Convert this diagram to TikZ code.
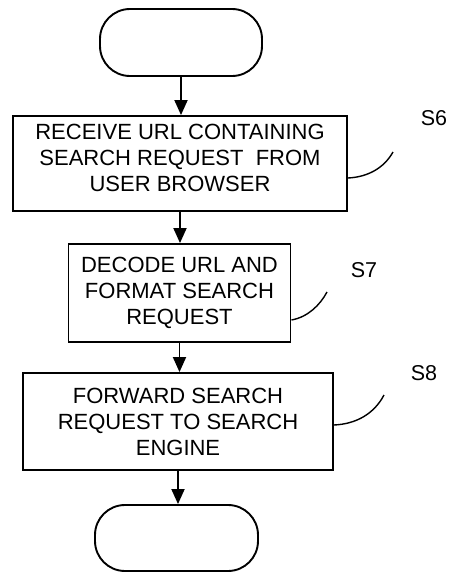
\documentclass[tikz,border=0pt]{standalone}
\usepackage{fontspec}
\setmainfont{Liberation Sans}
\usetikzlibrary{arrows.meta}
\begin{document}
\begin{tikzpicture}[x=1pt,y=-1pt,
  box/.style={draw,line width=1.9pt,align=center,font=\fontsize{22}{26}\selectfont,inner sep=0pt},
  term/.style={draw,line width=1.9pt,rounded corners=30pt,inner sep=0pt},
  flow/.style={line width=1.9pt,-{Triangle[length=15pt,width=13pt]}},
  lead/.style={line width=1.4pt},
  lbl/.style={font=\fontsize{21.5}{24}\selectfont,inner sep=0pt}]
\useasboundingbox (0,0) rectangle (453,574);
\node[term,minimum width=162pt,minimum height=67pt] (t1) at (181,42.5) {};
\node[box,minimum width=334pt,minimum height=95pt,text depth=12pt] (b1) at (180,163.5)
  {RECEIVE URL CONTAINING\\SEARCH REQUEST\ \ FROM\\USER BROWSER};
\node[box,minimum width=222pt,minimum height=98pt] (b2) at (179.5,293)
  {DECODE URL AND\\FORMAT SEARCH\\REQUEST};
\node[box,minimum width=310pt,minimum height=97pt] (b3) at (178,421.5)
  {FORWARD SEARCH\\REQUEST TO SEARCH\\ENGINE};
\node[term,minimum width=163pt,minimum height=66pt] (t2) at (176.5,538) {};
\draw[flow] (t1.south) -- (t1.south |- b1.north);
\draw[flow] (b1.south) -- (b1.south |- b2.north);
\draw[flow] (b2.south) -- (b2.south |- b3.north);
\draw[flow] (b3.south) -- (b3.south |- t2.north);
\node[lbl] (s6) at (434,118) {S6};
\node[lbl] (s7) at (364,270) {S7};
\node[lbl] (s8) at (424,373) {S8};
\coordinate (e6) at (393,152);
\coordinate (e7) at (327,292);
\coordinate (e8) at (384,395);
\draw[lead] ([yshift=-14.5pt]b1.east) .. controls (368,177) and (384,168) .. (e6);
\draw[lead] ([yshift=-27pt]b2.east) .. controls (308,317) and (320,305) .. (e7);
\draw[lead] ([yshift=-3.5pt]b3.east) .. controls (356,424) and (374,414) .. (e8);
\end{tikzpicture}
\end{document}
